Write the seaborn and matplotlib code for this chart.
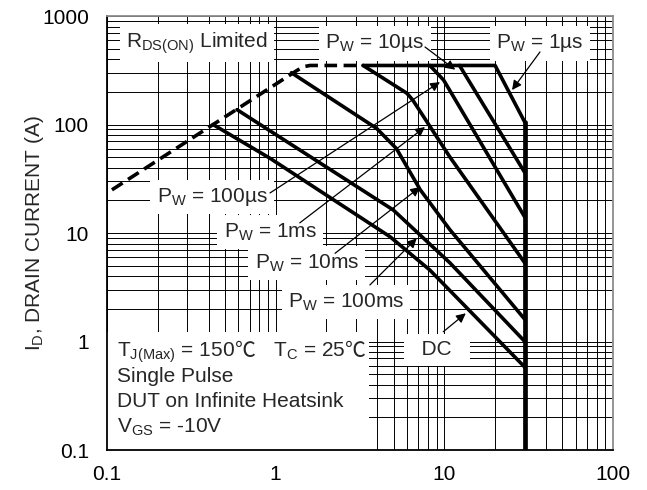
import numpy as np
import pandas as pd
import matplotlib
matplotlib.use("Agg")
import matplotlib.pyplot as plt
import seaborn as sns
from matplotlib.ticker import LogLocator, NullFormatter
from matplotlib.patches import Rectangle

# ---------------- data ----------------
x_ticks = [0.1, 1, 10, 100]
x_tick_labels = ["0.1", "1", "10", "100"]
y_ticks = [0.1, 1, 10, 100, 1000]
y_tick_labels = ["0.1", "1", "10", "100", "1000"]

# R_DS(on) limit (dashed)
rds_v = [0.107, 1.3, 1.45, 1.6, 3.3]
rds_i = [25, 306, 340, 350, 350]

v_1us = [3.3, 20, 30]
i_1us = [350, 350, 105]
v_10us = [12.3, 30]
i_10us = [350, 36]
v_100us = [8.2, 9.9, 30]
i_100us = [350, 257, 14]
v_1ms = [3.3, 6.0, 6.5, 10.8, 30]
i_1ms = [350, 194, 168, 50, 5.3]
v_10ms = [1.24, 3.97, 5.2, 7.2, 10.8, 30]
i_10ms = [300, 92, 60, 25, 10.7, 1.6]
v_100ms = [0.59, 4.98, 10.8, 30]
i_100ms = [137, 16.3, 5.3, 1.0]
v_dc = [0.425, 0.926, 4.76, 8.2, 30]
i_dc = [100, 48.8, 9.25, 4.56, 0.58]

# V_DS max vertical limit
vmax_v = [30, 30]
vmax_i = [0.1, 105]

curve_names = ["1us", "10us", "100us", "1ms", "10ms", "100ms", "DC"]
curve_v = [v_1us, v_10us, v_100us, v_1ms, v_10ms, v_100ms, v_dc]
curve_i = [i_1us, i_10us, i_100us, i_1ms, i_10ms, i_100ms, i_dc]

rows = []
for name, vs, cs in zip(curve_names, curve_v, curve_i):
    for k, (v, c) in enumerate(zip(vs, cs)):
        rows.append({"curve": name, "order": k, "V": v, "I": c})
df = pd.DataFrame(rows)

# ---------------- style ----------------
sns.set_style("white")
plt.rcParams["font.family"] = ["Liberation Sans", "Noto Sans CJK SC", "DejaVu Sans"]
plt.rcParams["mathtext.fontset"] = "custom"
plt.rcParams["mathtext.rm"] = "Liberation Sans"
plt.rcParams["mathtext.it"] = "Liberation Sans:italic"
plt.rcParams["mathtext.bf"] = "Liberation Sans:bold"

FS = 15

fig = plt.figure(figsize=(6.47, 4.90), dpi=100)
ax = fig.add_axes([107 / 647, 40 / 490, 506 / 647, 434 / 490])
ax.set_xscale("log")
ax.set_yscale("log")

sns.lineplot(data=df, x="V", y="I", units="curve", estimator=None, sort=False,
             color="black", linewidth=2.6, ax=ax, legend=False, zorder=4)
sns.lineplot(x=rds_v, y=rds_i, sort=False, estimator=None, color="black",
             linewidth=2.6, dashes=False, linestyle=(0, (3.5, 1.8)), ax=ax,
             legend=False, zorder=4)
sns.lineplot(x=vmax_v, y=vmax_i, sort=False, estimator=None, color="black",
             linewidth=3.4, ax=ax, legend=False, zorder=4)

ax.set_xlim(0.1, 100)
ax.set_ylim(0.1, 1000)
ax.set_xticks(x_ticks)
ax.set_xticklabels(x_tick_labels)
ax.set_yticks(y_ticks)
ax.set_yticklabels(y_tick_labels)
ax.xaxis.set_minor_locator(LogLocator(base=10, subs=np.arange(2, 10)))
ax.yaxis.set_minor_locator(LogLocator(base=10, subs=np.arange(2, 10)))
ax.xaxis.set_minor_formatter(NullFormatter())
ax.yaxis.set_minor_formatter(NullFormatter())
ax.tick_params(axis="both", which="both", length=0, labelsize=FS, colors="black")
ax.tick_params(axis="x", pad=11)
ax.tick_params(axis="y", pad=13)
ax.set_axisbelow(True)
ax.grid(True, which="both", color="black", linewidth=0.7)
ax.set_xlabel("")
ax.set_ylabel(r"I$_\mathregular{D}$, DRAIN CURRENT (A)", fontsize=FS, labelpad=-3)

for side in ["left", "bottom"]:
    ax.spines[side].set_color("black")
    ax.spines[side].set_linewidth(1.3)
for side in ["top", "right"]:
    ax.spines[side].set_color("#8c8c8c")
    ax.spines[side].set_linewidth(1.3)

box = dict(facecolor="white", edgecolor="none", boxstyle="square,pad=0.3")

def label(x, y, s, ha="center"):
    ax.text(x, y, s, ha=ha, va="center", fontsize=FS, bbox=box, zorder=3)

label(0.342, 560, r"R$_\mathregular{DS(ON)}$ Limited")
label(3.88, 560, r"P$_\mathregular{W}$ = 10µs")
label(36.9, 560, r"P$_\mathregular{W}$ = 1µs")
label(0.419, 21.5, r"P$_\mathregular{W}$ = 100µs")
label(0.926, 10.2, r"P$_\mathregular{W}$ = 1ms")
label(1.53, 5.29, r"P$_\mathregular{W}$ = 10ms")
label(2.61, 2.31, r"P$_\mathregular{W}$ = 100ms")
label(9.05, 0.835, "  DC  ")

# condition block
ax.add_patch(Rectangle((0.1, 0.1), 3.5, 1.12, facecolor="white",
                       edgecolor="none", zorder=2.5))
cjk = ["Noto Sans CJK SC", "DejaVu Sans"]
y0 = 0.72
t1 = ax.text(0.1146, y0, r"T$_\mathregular{J(Max)}$ = 150", ha="left",
             va="baseline", fontsize=FS, zorder=3)
t2 = ax.annotate("℃", xy=(1, y0), xycoords=(t1, "data"), ha="left",
                 va="baseline", fontsize=FS, family=cjk, zorder=3)
t3 = ax.annotate(r"   T$_\mathregular{C}$ = 25", xy=(1, y0), xycoords=(t2, "data"),
                 ha="left", va="baseline", fontsize=FS, zorder=3)
t4 = ax.annotate("℃", xy=(1, y0), xycoords=(t3, "data"), ha="left",
                 va="baseline", fontsize=FS, family=cjk, zorder=3)

cond_lines = ["Single Pulse", "DUT on Infinite Heatsink", r"V$_\mathregular{GS}$ = -10V"]
cond_y = [0.471, 0.277, 0.163]
for s, yy in zip(cond_lines, cond_y):
    ax.text(0.1146, yy, s, ha="left", va="center", fontsize=FS, zorder=3)

arrow = dict(arrowstyle="-|>", color="black", lw=0.9, mutation_scale=14,
             shrinkA=0, shrinkB=0)
arrows = [((7.68, 518), (11.6, 320)),
          ((36.9, 466), (25.2, 208)),
          ((0.926, 23.4), (9.42, 246)),
          ((1.39, 12.4), (7.68, 94.8)),
          ((2.25, 6.5), (7.18, 26.5)),
          ((3.62, 3.32), (6.86, 8.93)),
          ((9.86, 1.23), (13.4, 1.82))]
for start, tip in arrows:
    ax.annotate("", xy=tip, xytext=start, arrowprops=arrow, zorder=3.5)

fig.savefig("out.png", dpi=100)
